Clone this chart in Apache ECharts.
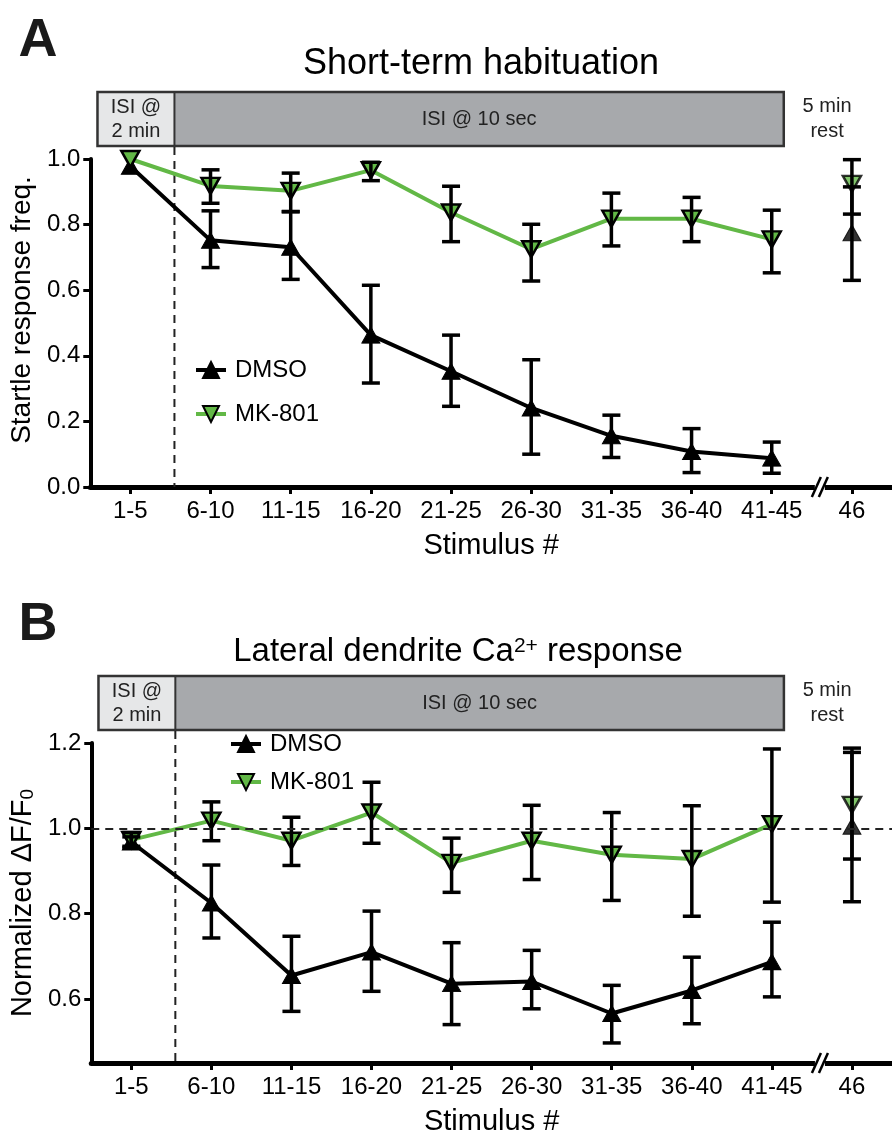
<!DOCTYPE html>
<html><head><meta charset="utf-8">
<script src="https://cdn.jsdelivr.net/npm/echarts@6/dist/echarts.min.js"></script>
<style>html,body{margin:0;padding:0;background:#fff}#c{width:892px;height:1139px}</style>
</head><body><div id="c"></div>
<script>
// ---------- data ----------
const categories = ['1-5','6-10','11-15','16-20','21-25','26-30','31-35','36-40','41-45','46'];
const yTicksA = [0, 0.2, 0.4, 0.6, 0.8, 1.0];
const yTicksB = [0.6, 0.8, 1.0, 1.2];

// Panel A: startle response frequency
const dmsoA     = [0.978, 0.752, 0.731, 0.463, 0.353, 0.241, 0.156, 0.108, 0.088, 0.775];
const dmsoA_lo  = [0.978, 0.669, 0.633, 0.317, 0.246, 0.100, 0.090, 0.044, 0.042, 0.630];
const dmsoA_hi  = [0.978, 0.842, 0.839, 0.615, 0.463, 0.388, 0.219, 0.178, 0.137, 0.915];
const mkA       = [1.000, 0.918, 0.903, 0.966, 0.837, 0.725, 0.818, 0.818, 0.755, 0.924];
const mkA_lo    = [1.000, 0.865, 0.840, 0.934, 0.748, 0.628, 0.735, 0.748, 0.653, 0.832];
const mkA_hi    = [1.000, 0.967, 0.957, 0.990, 0.917, 0.801, 0.896, 0.883, 0.844, 0.998];

// Panel B: normalized dF/F0
const dmsoB     = [0.968, 0.825, 0.655, 0.710, 0.636, 0.641, 0.566, 0.620, 0.687, 1.005];
const dmsoB_lo  = [0.955, 0.743, 0.571, 0.618, 0.540, 0.577, 0.497, 0.542, 0.605, 0.828];
const dmsoB_hi  = [0.980, 0.914, 0.747, 0.806, 0.732, 0.714, 0.632, 0.698, 0.780, 1.178];
const mkB       = [0.973, 1.018, 0.971, 1.037, 0.919, 0.971, 0.938, 0.928, 1.010, 1.055];
const mkB_lo    = [0.958, 0.971, 0.913, 0.965, 0.850, 0.880, 0.831, 0.794, 0.827, 0.928];
const mkB_hi    = [0.990, 1.062, 1.026, 1.108, 0.977, 1.054, 1.037, 1.053, 1.186, 1.188];

// ---------- style ----------
const FONT = "'Liberation Sans', Arial, Helvetica, sans-serif";
const GREEN = '#62b846';
const BLACK = '#000';
const idx = categories.map((c, i) => i);

const chart = echarts.init(document.getElementById('c'), null, {renderer: 'canvas'});

const lineData = arr => arr.slice(0, 9).map((v, i) => [i, v]);
const lastPt = arr => [[9, arr[9]]];
const errData = (lo, hi) => lo.map((l, i) => [i, l, hi[i]]);

function errRender(params, api) {
  const x = api.value(0), lo = api.value(1), hi = api.value(2);
  if (hi - lo < 1e-6) return null;
  const pTop = api.coord([x, hi]);
  const pBot = api.coord([x, lo]);
  const w = 9;
  const st = {stroke: BLACK, lineWidth: 3.5};
  return {
    type: 'group',
    children: [
      {type: 'line', shape: {x1: pTop[0], y1: pTop[1], x2: pBot[0], y2: pBot[1]}, style: st},
      {type: 'line', shape: {x1: pTop[0] - w, y1: pTop[1], x2: pTop[0] + w, y2: pTop[1]}, style: st},
      {type: 'line', shape: {x1: pBot[0] - w, y1: pBot[1], x2: pBot[0] + w, y2: pBot[1]}, style: st}
    ]
  };
}

const dmsoSym = {symbol: 'triangle', symbolSize: [18, 16], itemStyle: {color: BLACK, borderColor: BLACK, borderWidth: 1}};
const mkSym = {symbol: 'triangle', symbolRotate: 180, symbolSize: [18, 16], itemStyle: {color: GREEN, borderColor: BLACK, borderWidth: 2.5}};

function panelSeries(g, dm, dmLo, dmHi, mk, mkLo, mkHi) {
  return [
    Object.assign({name: 'DMSO', type: 'line', xAxisIndex: g, yAxisIndex: g, data: lineData(dm),
      lineStyle: {color: BLACK, width: 4}, z: 2, animation: false}, dmsoSym),
    Object.assign({name: 'DMSO-46-' + g, type: 'scatter', xAxisIndex: g, yAxisIndex: g, data: lastPt(dm), z: 2, animation: false}, dmsoSym),
    Object.assign({name: 'MK-801', type: 'line', xAxisIndex: g, yAxisIndex: g, data: lineData(mk),
      lineStyle: {color: GREEN, width: 4}, z: 3, animation: false}, mkSym),
    Object.assign({name: 'MK-46-' + g, type: 'scatter', xAxisIndex: g, yAxisIndex: g, data: lastPt(mk), z: 3, animation: false}, mkSym),
    {name: 'errD' + g, type: 'custom', xAxisIndex: g, yAxisIndex: g, renderItem: errRender,
      data: errData(dmLo, dmHi), encode: {x: 0, y: [1, 2]}, z: 4, animation: false},
    {name: 'errM' + g, type: 'custom', xAxisIndex: g, yAxisIndex: g, renderItem: errRender,
      data: errData(mkLo, mkHi), encode: {x: 0, y: [1, 2]}, z: 4, animation: false}
  ];
}

function xAxisCfg(g) {
  return {
    type: 'value', gridIndex: g, min: -0.5, max: 9.5,
    axisLine: {show: true, onZero: false, lineStyle: {color: BLACK, width: 5}},
    axisTick: {show: true, customValues: idx, length: 7, lineStyle: {color: BLACK, width: 3}},
    axisLabel: {customValues: idx, formatter: v => categories[Math.round(v)], margin: 12,
      fontSize: 24, color: BLACK, fontFamily: FONT},
    splitLine: {show: false},
    name: 'Stimulus #', nameLocation: 'middle', nameGap: 44,
    nameTextStyle: {fontSize: 29, color: BLACK, fontFamily: FONT}
  };
}

const legendBase = {
  orient: 'vertical', itemWidth: 30, itemHeight: 20, selectedMode: false,
  lineStyle: {width: 4},
  textStyle: {fontSize: 24, color: BLACK, fontFamily: FONT, padding: [0, 0, 0, 4]}
};

const option = {
  backgroundColor: '#fff',
  animation: false,
  grid: [
    {left: 87, top: 159, width: 810, height: 328},
    {left: 87, top: 743, width: 810, height: 320}
  ],
  xAxis: [xAxisCfg(0), xAxisCfg(1)],
  yAxis: [
    {type: 'value', gridIndex: 0, min: 0, max: 1,
      axisLine: {show: true, onZero: false, lineStyle: {color: BLACK, width: 4}},
      axisTick: {show: true, customValues: yTicksA, length: 7, lineStyle: {color: BLACK, width: 3}},
      axisLabel: {customValues: yTicksA, formatter: v => v.toFixed(1), fontSize: 24, color: BLACK, fontFamily: FONT, margin: 10},
      splitLine: {show: false},
      name: 'Startle response freq.', nameLocation: 'middle', nameGap: 51,
      nameTextStyle: {fontSize: 28, color: BLACK, fontFamily: FONT, padding: [0, 0, 0, 26]}},
    {type: 'value', gridIndex: 1, min: 0.45, max: 1.2,
      axisLine: {show: true, onZero: false, lineStyle: {color: BLACK, width: 4}},
      axisTick: {show: true, customValues: yTicksB, length: 7, lineStyle: {color: BLACK, width: 3}},
      axisLabel: {customValues: yTicksB, formatter: v => v.toFixed(1), fontSize: 24, color: BLACK, fontFamily: FONT, margin: 10},
      splitLine: {show: false},
      name: 'Normalized ΔF/F{sub|0}', nameLocation: 'middle', nameGap: 51,
      nameTextStyle: {fontSize: 29, color: BLACK, fontFamily: FONT, padding: [0, 0, 0, 0],
        rich: {sub: {fontSize: 19, fontFamily: FONT, color: BLACK, verticalAlign: 'bottom', padding: [10, 0, 0, 0]}}}}
  ],
  legend: [
    Object.assign({}, legendBase, {data: ['DMSO'], left: 189, top: 353}),
    Object.assign({}, legendBase, {data: ['MK-801'], left: 189, top: 397}),
    Object.assign({}, legendBase, {data: ['DMSO'], left: 224, top: 727}),
    Object.assign({}, legendBase, {data: ['MK-801'], left: 224, top: 765})
  ],
  series: [
    ...panelSeries(0, dmsoA, dmsoA_lo, dmsoA_hi, mkA, mkA_lo, mkA_hi),
    ...panelSeries(1, dmsoB, dmsoB_lo, dmsoB_hi, mkB, mkB_lo, mkB_hi),
    {name: 'ref1', type: 'line', xAxisIndex: 1, yAxisIndex: 1, data: [], silent: true,
      markLine: {symbol: 'none', silent: true, label: {show: false},
        lineStyle: {color: '#222', type: [8, 6], width: 2}, data: [{yAxis: 1.0}]}}
  ]
};
chart.setOption(option);

// ---------- decorations (timeline boxes, titles, dashed separators, axis breaks) ----------
function px(g, x, y) { return chart.convertToPixel({xAxisIndex: g, yAxisIndex: g}, [x, y]); }

function panelDecor(g, letter, titleRich, titleX, titleY, offY, yBotVal) {
  const els = [];
  const boxL = px(g, -0.41, 0)[0], boxDiv = px(g, 0.55, 0)[0], boxR = px(g, 8.15, 0)[0];
  const boxT = 92 + offY, boxH = 54;
  els.push({type: 'text', x: 38, y: 41 + offY, style: {text: letter, font: 'bold 54px ' + FONT, fill: '#1a1a1a', align: 'center', verticalAlign: 'middle'}});
  els.push({type: 'text', x: titleX, y: titleY, style: Object.assign({fill: BLACK, align: 'center', verticalAlign: 'middle'}, titleRich)});
  els.push({type: 'rect', shape: {x: boxL, y: boxT, width: boxDiv - boxL, height: boxH}, style: {fill: '#e6e7e8'}});
  els.push({type: 'rect', shape: {x: boxDiv, y: boxT, width: boxR - boxDiv, height: boxH}, style: {fill: '#a7a9ac'}});
  els.push({type: 'rect', shape: {x: boxL, y: boxT, width: boxR - boxL, height: boxH}, style: {fill: 'none', stroke: '#333', lineWidth: 2.5}});
  els.push({type: 'line', shape: {x1: boxDiv, y1: boxT, x2: boxDiv, y2: boxT + boxH}, style: {stroke: '#333', lineWidth: 2}});
  const tf = '20px ' + FONT;
  els.push({type: 'text', x: (boxL + boxDiv) / 2, y: boxT + 15, style: {text: 'ISI @', font: tf, fill: '#222', align: 'center', verticalAlign: 'middle'}});
  els.push({type: 'text', x: (boxL + boxDiv) / 2, y: boxT + 39, style: {text: '2 min', font: tf, fill: '#222', align: 'center', verticalAlign: 'middle'}});
  els.push({type: 'text', x: (boxDiv + boxR) / 2, y: boxT + 27, style: {text: 'ISI @ 10 sec', font: tf, fill: '#222', align: 'center', verticalAlign: 'middle'}});
  const restX = px(g, 8.69, 0)[0];
  els.push({type: 'text', x: restX, y: boxT + 14, style: {text: '5 min', font: tf, fill: '#222', align: 'center', verticalAlign: 'middle'}});
  els.push({type: 'text', x: restX, y: boxT + 39, style: {text: 'rest', font: tf, fill: '#222', align: 'center', verticalAlign: 'middle'}});
  // dashed separator
  const axisY = px(g, 0, yBotVal)[1];
  els.push({type: 'line', shape: {x1: boxDiv, y1: boxT + boxH + 1, x2: boxDiv, y2: axisY}, style: {stroke: '#222', lineWidth: 2, lineDash: [8, 6]}, z: 1});
  // axis break
  const bx = px(g, 8.6, 0)[0];
  els.push({type: 'rect', shape: {x: bx - 5, y: axisY - 4, width: 10, height: 8}, style: {fill: '#fff'}, z: 10});
  els.push({type: 'line', shape: {x1: bx - 8, y1: axisY + 10, x2: bx + 1, y2: axisY - 10}, style: {stroke: BLACK, lineWidth: 2.5}, z: 11});
  els.push({type: 'line', shape: {x1: bx - 1, y1: axisY + 10, x2: bx + 8, y2: axisY - 10}, style: {stroke: BLACK, lineWidth: 2.5}, z: 11});
  return els;
}

const titleA = {text: 'Short-term habituation', font: '36px ' + FONT};
const titleB = {text: 'Lateral dendrite Ca{sup|2+} response', font: '33px ' + FONT,
  rich: {sup: {fontSize: 21, fontFamily: FONT, fill: BLACK, verticalAlign: 'top', padding: [0, 0, 12, 0]}}};

chart.setOption({
  graphic: [
    ...panelDecor(0, 'A', titleA, 481, 64, 0, 0),
    ...panelDecor(1, 'B', titleB, 458, 652, 584, 0.45)
  ]
});
</script></body></html>
